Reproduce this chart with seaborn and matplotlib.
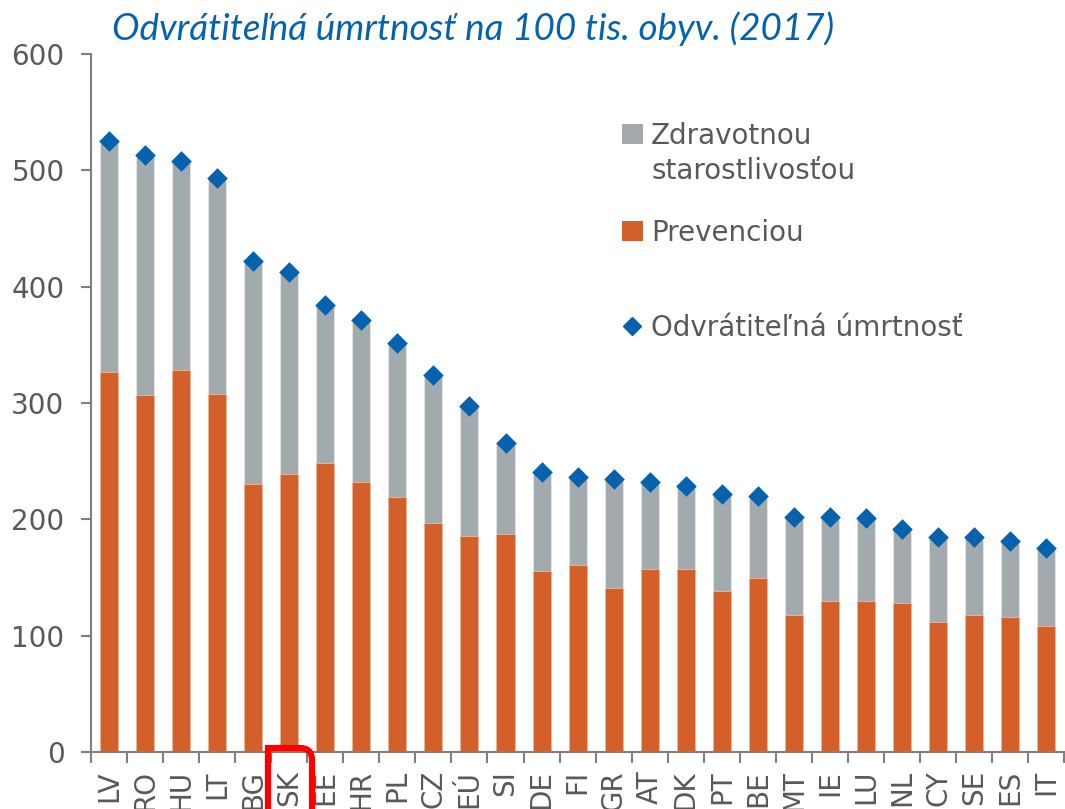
import numpy as np
import pandas as pd
import matplotlib
matplotlib.use("Agg")
import matplotlib.pyplot as plt
import seaborn as sns
from matplotlib.patches import Patch, PathPatch
from matplotlib.lines import Line2D
from matplotlib.path import Path

countries = ["LV", "RO", "HU", "LT", "BG", "SK", "EE", "HR", "PL", "CZ", "EÚ", "SI", "DE", "FI",
             "GR", "AT", "DK", "PT", "BE", "MT", "IE", "LU", "NL", "CY", "SE", "ES", "IT"]
total = [525, 513, 508, 493, 422, 413, 384, 371, 352, 324, 297, 266, 241, 236,
         235, 232, 229, 222, 220, 202, 202, 201, 192, 185, 185, 181, 175]
prevention = [327, 307, 328, 308, 230, 239, 248, 232, 219, 197, 186, 187, 156, 161,
              141, 157, 157, 138, 150, 118, 130, 130, 128, 112, 118, 116, 108]
yticks = [0, 100, 200, 300, 400, 500, 600]

title = "Odvrátiteľná úmrtnosť na 100 tis. obyv. (2017)"
lab_care = ["Zdravotnou", "starostlivosťou"]
lab_prev = "Prevenciou"
lab_total = "Odvrátiteľná úmrtnosť"

GREY = "#A3AAAE"
ORANGE = "#D3602A"
BLUE = "#0563AE"
TXT = "#595959"
AX = "#7F7F7F"

sns.set_theme(style="white")
plt.rcParams["font.family"] = ["DejaVu Sans"]

df = pd.DataFrame({"country": countries, "total": total, "prevention": prevention})

W, H = 1065, 809
fig = plt.figure(figsize=(W / 100, H / 100), dpi=100)
ax = fig.add_axes([91 / W, (H - 752) / H, (1066 - 91) / W, (752 - 54) / H])

sns.barplot(data=df, x="country", y="total", color=GREY, width=0.5, ax=ax,
            saturation=1, edgecolor="#E6E8E9", linewidth=0.6)
sns.barplot(data=df, x="country", y="prevention", color=ORANGE, width=0.5, ax=ax,
            saturation=1, edgecolor="#F0B89A", linewidth=0.6)
sns.stripplot(data=df, x="country", y="total", jitter=False, marker="D", size=10.5,
              color=BLUE, ax=ax, zorder=5, linewidth=0)

n = len(countries)
ax.set_xlim(-0.5, n - 0.45)
ax.set_ylim(0, 600)
ax.set_yticks(yticks)
ax.set_xlabel("")
ax.set_ylabel("")

for s in ["top", "right"]:
    ax.spines[s].set_visible(False)
for s in ["left", "bottom"]:
    ax.spines[s].set_color(AX)
    ax.spines[s].set_linewidth(1.5)

ax.tick_params(axis="y", which="major", left=True, length=7, width=1.5, color=AX,
               labelsize=20, labelcolor=TXT, pad=12)
ax.set_xticks(np.arange(n))
ax.set_xticklabels(countries, rotation=90, va="top", ha="center")
ax.tick_params(axis="x", which="major", bottom=False, length=0, labelsize=20,
               labelcolor=TXT, pad=13)
ax.set_xticks(np.arange(n + 1) - 0.5, minor=True)
ax.tick_params(axis="x", which="minor", bottom=True, length=8, width=1.5, color=AX)

fig.text(112 / W, 1 - 40 / H, title, fontsize=26.6, style="italic", color="#0563AE",
         family=["Lato", "DejaVu Sans"], va="baseline")

leg_kw = dict(frameon=False, fontsize=20, labelcolor=TXT, handlelength=0.75,
              handleheight=0.75, handletextpad=0.3, borderpad=0, borderaxespad=0,
              loc="upper left")
h1 = [Patch(facecolor=GREY, edgecolor="none"), Patch(facecolor="none", edgecolor="none")]
l1 = ax.legend(h1, lab_care, bbox_to_anchor=(622 / W, 1 - 122 / H),
               bbox_transform=fig.transFigure, labelspacing=0.25, **leg_kw)
ax.add_artist(l1)
l2 = ax.legend([Patch(facecolor=ORANGE, edgecolor="none")], [lab_prev],
               bbox_to_anchor=(622 / W, 1 - 219 / H), bbox_transform=fig.transFigure, **leg_kw)
ax.add_artist(l2)
h3 = [Line2D([], [], marker="D", color=BLUE, linestyle="none", markersize=9)]
ax.legend(h3, [lab_total], bbox_to_anchor=(622 / W, 1 - 314 / H),
          bbox_transform=fig.transFigure, **leg_kw)

# highlight box around SK label
x0, x1, ytop, r = 268, 312, 748, 12
verts = [(x0, H + 20), (x0, ytop), (x1 - r, ytop), (x1, ytop), (x1, ytop + r), (x1, H + 20)]
verts = [(vx / W, 1 - vy / H) for vx, vy in verts]
codes = [Path.MOVETO, Path.LINETO, Path.LINETO, Path.CURVE3, Path.CURVE3, Path.LINETO]
fig.patches.append(PathPatch(Path(verts, codes), transform=fig.transFigure, fill=False,
                             edgecolor="#FF0000", linewidth=4.5, zorder=10))

fig.savefig("out.png", dpi=100)
